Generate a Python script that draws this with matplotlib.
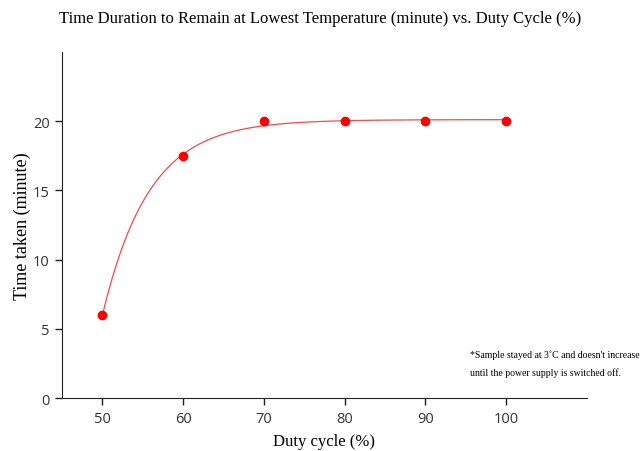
import numpy as np
import matplotlib.pyplot as plt

# duty cycle (%) vs time taken (minute)
duty = np.array([50, 60, 70, 80, 90, 100])
minutes = np.array([6, 17.5, 20, 20, 20, 20])

# exponential rise fit: y = A - B*exp(-k*(x-50)), grid search on k, least squares for A, B
best = None
for k in np.linspace(0.05, 0.5, 901):
    M = np.column_stack([np.ones(len(duty)), -np.exp(-k * (duty - 50))])
    coef, res, _, _ = np.linalg.lstsq(M, minutes, rcond=None)
    err = np.sum((M @ coef - minutes) ** 2)
    if best is None or err < best[0]:
        best = (err, k, coef)
_, k, (A, B) = best
xf = np.linspace(50, 100, 300)
yf = A - B * np.exp(-k * (xf - 50))

plt.rcParams['font.family'] = 'Liberation Serif'

fig = plt.figure(figsize=(6.4, 4.52), dpi=100)
ax = fig.add_axes([0.097, 0.117, 0.82, 0.766])

ax.plot(xf, yf, color='#f24a4a', lw=0.9)
ax.plot(duty, minutes, 'o', color='red', markersize=6)

ax.set_xlim(45, 110)
ax.set_ylim(0, 25)
ax.set_xticks([50, 60, 70, 80, 90, 100])
ax.set_yticks([0, 5, 10, 15, 20])
for lab in ax.get_xticklabels() + ax.get_yticklabels():
    lab.set_fontfamily('Open Sans')
    lab.set_fontsize(10.5)
    lab.set_color('#333333')
ax.tick_params(direction='out', length=5, width=1, color='#222222', pad=4)
ax.spines['top'].set_visible(False)
ax.spines['right'].set_visible(False)
ax.spines['left'].set_color('#222222')
ax.spines['bottom'].set_color('#222222')

ax.set_xlabel('Duty cycle (%)', fontsize=12, labelpad=5)
ax.set_ylabel('Time taken (minute)', fontsize=13, labelpad=1.5)
fig.suptitle('Time Duration to Remain at Lowest Temperature (minute) vs. Duty Cycle (%)',
             fontsize=12, y=0.975)

ax.text(0.777, 0.127, "*Sample stayed at 3\u02daC and doesn't increase", transform=ax.transAxes,
        fontsize=7, va='center')
ax.text(0.777, 0.075, 'until the power supply is switched off.', transform=ax.transAxes,
        fontsize=7, va='center')

fig.savefig('out.png', dpi=100)
